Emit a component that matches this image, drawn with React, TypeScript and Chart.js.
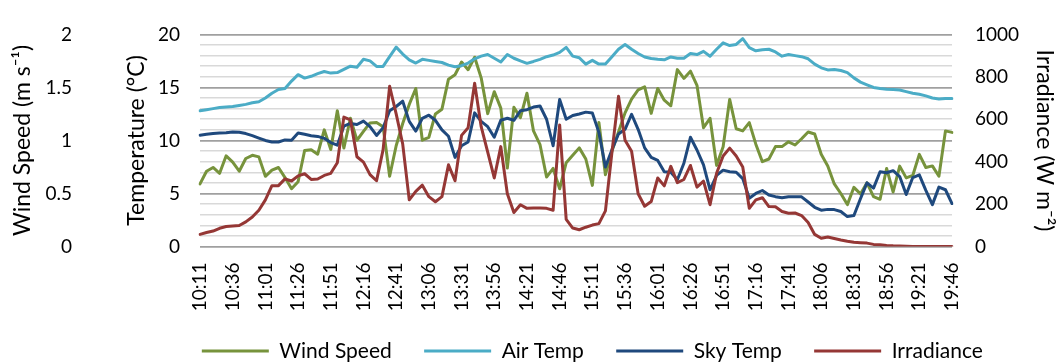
import { useEffect, useRef } from 'react';
import { Chart, registerables } from 'chart.js';

Chart.register(...registerables);

// ---------- data ----------
const timeLabels = [
  '10:11', '10:16', '10:21', '10:26', '10:31', '10:36', '10:41', '10:46', '10:51', '10:56',
  '11:01', '11:06', '11:11', '11:16', '11:21', '11:26', '11:31', '11:36', '11:41', '11:46', '11:51', '11:56',
  '12:01', '12:06', '12:11', '12:16', '12:21', '12:26', '12:31', '12:36', '12:41', '12:46', '12:51', '12:56',
  '13:01', '13:06', '13:11', '13:16', '13:21', '13:26', '13:31', '13:36', '13:41', '13:46', '13:51', '13:56',
  '14:01', '14:06', '14:11', '14:16', '14:21', '14:26', '14:31', '14:36', '14:41', '14:46', '14:51', '14:56',
  '15:01', '15:06', '15:11', '15:16', '15:21', '15:26', '15:31', '15:36', '15:41', '15:46', '15:51', '15:56',
  '16:01', '16:06', '16:11', '16:16', '16:21', '16:26', '16:31', '16:36', '16:41', '16:46', '16:51', '16:56',
  '17:01', '17:06', '17:11', '17:16', '17:21', '17:26', '17:31', '17:36', '17:41', '17:46', '17:51', '17:56',
  '18:01', '18:06', '18:11', '18:16', '18:21', '18:26', '18:31', '18:36', '18:41', '18:46', '18:51', '18:56',
  '19:01', '19:06', '19:11', '19:16', '19:21', '19:26', '19:31', '19:36', '19:41', '19:46',
];

// m s-1
const windSpeed = [
  0.59, 0.71, 0.745, 0.69, 0.855, 0.795, 0.71, 0.83, 0.86, 0.845,
  0.662, 0.72, 0.745, 0.65, 0.545, 0.61, 0.905, 0.913, 0.87, 1.1,
  0.914, 1.28, 0.928, 1.209, 1.002, 1.085, 1.165, 1.17, 1.13, 0.662,
  0.95, 1.16, 1.34, 1.49, 1.002, 1.03, 1.25, 1.295, 1.578, 1.62,
  1.74, 1.667, 1.785, 1.59, 1.253, 1.46, 1.305, 0.74, 1.312, 1.215,
  1.445, 1.09, 0.96, 0.655, 0.736, 0.544, 0.79, 0.86, 0.93, 0.825,
  0.576, 1.17, 0.677, 0.9, 1.08, 1.26, 1.39, 1.476, 1.505, 1.256,
  1.49, 1.38, 1.327, 1.668, 1.585, 1.653, 1.52, 1.12, 1.209, 0.765,
  0.94, 1.387, 1.11, 1.09, 1.168, 0.965, 0.8, 0.825, 0.942, 0.942,
  0.987, 0.957, 1.016, 1.08, 1.061, 0.87, 0.76, 0.59, 0.5, 0.395,
  0.558, 0.496, 0.6, 0.47, 0.445, 0.736, 0.514, 0.758, 0.647, 0.67,
  0.869, 0.745, 0.76, 0.662, 1.09, 1.076,
];

// deg C
const airTemp = [
  12.8, 12.9, 13.0, 13.1, 13.15, 13.2, 13.3, 13.4, 13.55, 13.65,
  14.0, 14.45, 14.8, 14.9, 15.6, 16.2, 15.88, 16.05, 16.3, 16.5,
  16.35, 16.4, 16.7, 17.0, 16.9, 17.65, 17.5, 16.98, 16.98, 17.9,
  18.8, 18.15, 17.6, 17.3, 17.65, 17.55, 17.45, 17.35, 17.1, 16.95,
  17.05, 17.3, 17.7, 17.95, 18.1, 17.75, 17.4, 18.1, 17.75, 17.5,
  17.27, 17.45, 17.65, 17.9, 18.05, 18.3, 18.78, 17.95, 17.8, 17.2,
  17.55, 17.2, 17.2, 17.9, 18.6, 19.05, 18.6, 18.2, 17.87, 17.72,
  17.65, 17.6, 17.87, 17.75, 17.75, 18.2, 18.1, 18.4, 17.94, 18.6,
  19.2, 18.95, 19.05, 19.6, 18.75, 18.45, 18.55, 18.6, 18.35, 17.95,
  18.1, 18.0, 17.9, 17.7, 17.2, 16.85, 16.65, 16.7, 16.6, 16.4,
  15.9, 15.5, 15.25, 15.0, 14.9, 14.82, 14.8, 14.76, 14.6, 14.45,
  14.35, 14.2, 14.0, 13.9, 13.96, 13.96,
];

// deg C
const skyTemp = [
  10.5, 10.58, 10.65, 10.7, 10.73, 10.8, 10.78, 10.65, 10.45, 10.22,
  10.0, 9.85, 9.85, 10.05, 10.02, 10.7, 10.58, 10.45, 10.38, 10.2,
  9.8, 9.55, 11.35, 11.6, 11.5, 11.82, 11.3, 10.47, 11.2, 12.8,
  13.2, 13.7, 11.8, 10.88, 12.09, 12.38, 11.9, 11.0, 10.4, 8.4,
  9.5, 9.85, 12.6, 11.8, 11.3, 10.3, 11.9, 12.09, 11.9, 12.8,
  12.9, 13.15, 13.25, 12.0, 9.5, 13.86, 12.0, 12.35, 12.5, 12.67,
  12.59, 10.76, 7.5, 9.13, 10.61, 11.05, 12.47, 11.05, 9.3, 8.4,
  8.12, 7.05, 7.0, 6.3, 7.85, 10.3, 9.1, 7.7, 5.35, 6.7,
  7.2, 7.05, 7.0, 6.4, 4.55, 5.0, 5.28, 4.85, 4.7, 4.6,
  4.7, 4.7, 4.68, 4.2, 3.7, 3.42, 3.5, 3.48, 3.3, 2.82,
  2.92, 4.5, 6.0, 5.5, 7.05, 6.95, 7.15, 6.6, 4.9, 6.5,
  6.75, 5.3, 3.95, 5.6, 5.35, 4.05,
];

// W m-2
const irradiance = [
  57, 66, 73, 86, 94, 97, 99, 116, 139, 171,
  220, 287, 287, 319, 309, 333, 343, 316, 318, 335,
  345, 395, 610, 597, 423, 398, 339, 310, 457, 755,
  625, 483, 220, 260, 289, 235, 211, 235, 385, 310,
  524, 560, 770, 565, 445, 323, 471, 249, 160, 197,
  180, 182, 181, 180, 171, 573, 128, 87, 79, 91,
  101, 108, 168, 445, 708, 501, 449, 249, 190, 212,
  323, 286, 378, 301, 316, 382, 280, 308, 197, 345,
  427, 464, 427, 375, 180, 220, 230, 188, 187, 165,
  157, 158, 146, 113, 57, 39, 45, 38, 31, 25,
  20, 18, 16, 10, 8, 5, 3, 2, 1, 0,
  0, 0, 0, 0, 0, 0,
];

const seriesNames = ['Wind Speed', 'Air Temp', 'Sky Temp', 'Irradiance'];
const seriesColors = ['#77933C', '#4BACC6', '#1F497D', '#953735'];

const windTitle = 'Wind Speed (m s\u207B\u00B9)';
const tempTitle = 'Temperature (\u00B0C)';
const irrTitle = 'Irradiance (W m\u207B\u00B2)';

// ---------- style ----------
const FONT = 'Lato, "Open Sans", "DejaVu Sans", sans-serif';
const TICK_SIZE = 19;
const TITLE_SIZE = 23;
const LEGEND_SIZE = 21;
const LEGEND_SHIFT = 67;

const legendShift = {
  id: 'legendShift',
  afterLayout(chart: any) {
    const l = chart.legend;
    if (l) {
      l.left += LEGEND_SHIFT;
      l.right += LEGEND_SHIFT;
    }
  },
};

export default function App() {
  const canvasRef = useRef<HTMLCanvasElement>(null);

  useEffect(() => {
    const canvas = canvasRef.current;
    if (!canvas) return;
    const tickFont = { family: FONT, size: TICK_SIZE };
    const titleFont = { family: FONT, size: TITLE_SIZE };
    const seriesData = [windSpeed, airTemp, skyTemp, irradiance];
    const axisIds = ['wind', 'temp', 'temp', 'irr'];
    const orders = [4, 3, 2, 1];

    const chart = new Chart(canvas, {
      type: 'line',
      data: {
        labels: timeLabels,
        datasets: seriesNames.map((name, i) => ({
          label: name,
          data: seriesData[i],
          yAxisID: axisIds[i],
          borderColor: seriesColors[i],
          backgroundColor: seriesColors[i],
          borderWidth: 3,
          pointRadius: 0,
          pointHoverRadius: 0,
          tension: 0,
          fill: false,
          borderJoinStyle: 'round' as const,
          borderCapStyle: 'round' as const,
          order: orders[i],
        })),
      },
      options: {
        responsive: false,
        animation: false,
        devicePixelRatio: 1,
        events: [],
        layout: { padding: { top: 21, left: 0, right: 0, bottom: -9.5 } },
        plugins: {
          tooltip: { enabled: false },
          legend: {
            position: 'bottom',
            align: 'center',
            labels: {
              usePointStyle: true,
              pointStyle: 'line',
              pointStyleWidth: 67,
              padding: 27,
              color: '#000',
              font: { family: FONT, size: LEGEND_SIZE },
              sort: (a: any, b: any) => a.datasetIndex - b.datasetIndex,
              generateLabels: (chart: any) =>
                Chart.defaults.plugins.legend.labels
                  .generateLabels(chart)
                  .map((item: any) => ({ ...item, text: item.text + ' ' })),
            },
          },
        },
        scales: {
          x: {
            type: 'category',
            offset: false,
            grid: { display: false, drawTicks: false },
            border: { display: false },
            ticks: {
              autoSkip: false,
              minRotation: 90,
              maxRotation: 90,
              padding: 16,
              color: '#000',
              font: tickFont,
              callback: (_v: any, idx: number) => (idx % 5 === 0 ? timeLabels[idx] : ''),
            },
            afterFit: (s: any) => {
              s.height = 67;
            },
          },
          wind: {
            type: 'linear',
            position: 'left',
            weight: 10,
            min: 0,
            max: 2,
            grid: { display: false, drawTicks: false },
            border: { display: false },
            ticks: {
              stepSize: 0.5,
              padding: 8,
              color: '#000',
              font: tickFont,
              callback: (v: any) => String(v),
            },
            title: {
              display: true,
              text: windTitle,
              color: '#000',
              font: titleFont,
              padding: { top: 9, bottom: 0 },
            },
            afterFit: (s: any) => {
              s.width = 80;
            },
          },
          temp: {
            type: 'linear',
            position: 'left',
            weight: 0,
            min: 0,
            max: 20,
            grid: {
              drawTicks: false,
              color: (ctx: any) => (ctx.tick && ctx.tick.value % 5 === 0 ? '#A0A0A0' : '#D9D9D9'),
              lineWidth: (ctx: any) => (ctx.tick && ctx.tick.value % 5 === 0 ? 1.7 : 1.5),
            },
            border: { display: false },
            ticks: {
              stepSize: 1,
              autoSkip: false,
              padding: 20,
              color: '#000',
              font: tickFont,
              callback: (v: any) => (Number(v) % 5 === 0 ? String(v) : ''),
            },
            title: {
              display: true,
              text: tempTitle,
              color: '#000',
              font: titleFont,
              padding: { top: 43, bottom: 0 },
            },
            afterFit: (s: any) => {
              s.width = 120;
            },
          },
          irr: {
            type: 'linear',
            position: 'right',
            min: 0,
            max: 1000,
            grid: { display: false, drawTicks: false },
            border: { display: false },
            ticks: {
              stepSize: 200,
              padding: 23,
              color: '#000',
              font: tickFont,
              callback: (v: any) => String(v),
            },
            title: {
              display: true,
              text: irrTitle,
              color: '#000',
              font: { family: FONT, size: TITLE_SIZE, lineHeight: 1 },
              padding: { top: 0.5, bottom: 0 },
            },
            afterFit: (s: any) => {
              s.width = 104;
            },
          },
        },
      },
      plugins: [legendShift],
    } as any);

    return () => chart.destroy();
  }, []);

  return (
    <div style={{ position: 'fixed', left: 0, top: 0, width: 1056, height: 362, background: '#fff' }}>
      <canvas ref={canvasRef} width={1056} height={362} style={{ display: 'block' }} />
    </div>
  );
}
